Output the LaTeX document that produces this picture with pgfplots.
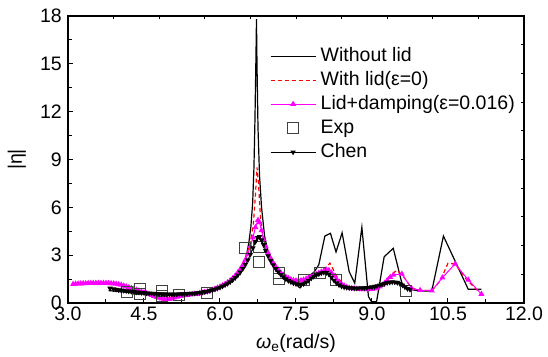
\documentclass[border=0pt]{standalone}
\usepackage{fontspec}
\setmainfont{Liberation Sans}
\usepackage{pgfplots}
\pgfplotsset{compat=1.18}
\definecolor{mag}{RGB}{255,0,255}
\newcommand{\fs}{\fontsize{19.5}{23}\selectfont}
\begin{document}
\begin{tikzpicture}
\useasboundingbox (-68pt,-53pt) rectangle (480pt,303pt);
\begin{axis}[
  scale only axis, width=456pt, height=287pt,
  xmin=3, xmax=12, ymin=0, ymax=18,
  xtick={3,4.5,...,12}, ytick={0,3,...,18},
  minor x tick num=1, minor y tick num=1,
  xtick pos=left, ytick pos=left,
  tick align=inside,
  major tick length=5pt, minor tick length=4pt,
  axis line style={line width=1.2pt},
  tick style={line width=1pt, black},
  /pgf/number format/assume math mode=true,
  xticklabel style={/pgf/number format/fixed, /pgf/number format/fixed zerofill, /pgf/number format/precision=1, inner sep=0pt, yshift=-4pt},
  yticklabel style={/pgf/number format/fixed, /pgf/number format/precision=0, inner sep=0pt, xshift=-6pt},
  ticklabel style={font=\fs},
  every axis x label/.style={at={(axis description cs:0.5,0)}, anchor=base, yshift=-45pt, font=\fs},
  every axis y label/.style={at={(axis description cs:0,0.5)}, xshift=-51pt, rotate=90, anchor=center, font=\fs},
  xlabel={\textit{ω}\textsubscript{e}(rad/s)},
  ylabel={|η|},
  legend style={draw=none, fill=none, at={(rel axis cs:0.443,0.895)}, anchor=north west,
    font=\fs, inner sep=0pt, outer sep=0pt, row sep=4pt, column sep=3.5pt,
    nodes={inner sep=1pt, text height=14pt, text depth=4pt}},
  legend cell align=left,
  legend image code/.code={\draw[mark repeat=2,mark phase=2,#1] plot coordinates {(0pt,0pt) (22.5pt,0pt) (45pt,0pt)};},
]
% Without lid
\addplot[black, line width=1.2pt, mark=none] coordinates {
(3.80,0.78)(4.00,0.72)(4.20,0.66)(4.40,0.60)(4.60,0.55)(4.80,0.52)(5.00,0.50)(5.20,0.52)(5.40,0.56)(5.60,0.63)(5.80,0.76)(5.95,0.92)(6.10,1.18)(6.20,1.38)(6.30,1.62)(6.38,1.95)(6.46,2.35)(6.52,2.95)(6.57,3.80)(6.61,4.80)(6.645,6.30)(6.67,8.50)(6.69,11.5)(6.71,15.5)(6.72,17.8)(6.73,15.0)(6.75,11.0)(6.78,8.0)(6.82,6.0)(6.88,4.2)(6.95,3.2)(7.02,2.55)(7.10,2.2)(7.18,1.86)(7.30,1.58)(7.45,1.30)(7.58,0.95)(7.66,1.35)(7.76,1.70)(7.86,1.95)(7.95,2.40)(8.07,4.20)(8.18,4.37)(8.29,3.20)(8.41,4.40)(8.55,1.96)(8.66,1.25)(8.80,4.75)(8.93,0.40)(8.99,0.08)(9.09,0.08)(9.24,2.90)(9.42,3.43)(9.59,1.24)(9.75,0.85)(9.95,0.75)(10.18,0.75)(10.41,4.20)(10.90,0.86)(11.16,0.86)};
\addlegendentry{Without lid}
% With lid
\addplot[red, line width=1.2pt, dash pattern=on 4pt off 3pt, mark=none] coordinates {
(3.10,1.15)(3.50,1.18)(4.00,1.15)(4.20,1.00)(4.50,0.75)(4.80,0.45)(5.00,0.35)(5.20,0.42)(5.50,0.55)(5.80,0.75)(6.00,0.98)(6.20,1.40)(6.35,1.90)(6.50,2.80)(6.60,3.80)(6.66,5.0)(6.70,6.8)(6.73,8.5)(6.76,7.5)(6.80,5.3)(6.86,4.0)(6.95,3.0)(7.10,2.2)(7.30,1.55)(7.50,1.25)(7.70,1.45)(7.90,1.85)(8.05,2.1)(8.17,2.5)(8.30,1.7)(8.45,1.1)(8.70,0.95)(9.00,0.90)(9.20,1.10)(9.35,1.70)(9.49,2.05)(9.60,1.75)(9.78,0.95)(9.95,0.80)(10.18,0.78)(10.35,1.40)(10.50,2.50)(10.64,2.45)(10.87,1.45)(11.16,0.55)};
\addlegendentry{With lid(ε=0)}
% Lid + damping
\addplot[mag, line width=1pt, mark=triangle*, mark size=2.5pt, mark options={solid, fill=mag, draw=mag}] coordinates {
(3.10,1.18)(3.15,1.20)(3.20,1.21)(3.25,1.22)(3.30,1.23)(3.35,1.23)(3.40,1.24)(3.45,1.24)(3.50,1.25)(3.55,1.25)(3.60,1.25)(3.65,1.25)(3.70,1.25)(3.75,1.25)(3.80,1.24)(3.85,1.23)(3.90,1.22)(3.95,1.20)(4.00,1.17)(4.05,1.13)(4.10,1.08)(4.15,1.03)(4.20,0.98)(4.25,0.93)(4.30,0.88)(4.35,0.82)(4.40,0.77)(4.45,0.72)(4.50,0.66)(4.55,0.60)(4.60,0.55)(4.65,0.49)(4.70,0.43)(4.75,0.37)(4.80,0.32)(4.85,0.27)(4.90,0.24)(4.95,0.22)(5.00,0.24)(5.05,0.28)(5.10,0.33)(5.15,0.38)(5.20,0.42)(5.25,0.45)(5.30,0.48)(5.35,0.50)(5.40,0.52)(5.45,0.54)(5.50,0.56)(5.55,0.58)(5.60,0.61)(5.65,0.64)(5.70,0.68)(5.75,0.72)(5.80,0.77)(5.85,0.82)(5.90,0.88)(5.95,0.95)(6.00,1.02)(6.05,1.10)(6.10,1.19)(6.15,1.29)(6.20,1.41)(6.25,1.55)(6.30,1.71)(6.35,1.90)(6.40,2.12)(6.45,2.38)(6.50,2.70)(6.55,3.08)(6.60,3.55)(6.65,4.10)(6.70,4.75)(6.75,5.20)(6.78,5.05)(6.82,4.55)(6.86,4.00)(6.90,3.55)(6.95,3.15)(7.00,2.80)(7.05,2.52)(7.10,2.28)(7.15,2.08)(7.20,1.90)(7.25,1.76)(7.30,1.64)(7.35,1.55)(7.40,1.48)(7.45,1.42)(7.50,1.40)(7.55,1.40)(7.60,1.42)(7.65,1.46)(7.70,1.52)(7.75,1.58)(7.80,1.65)(7.85,1.72)(7.90,1.80)(7.95,1.88)(8.00,1.95)(8.05,2.02)(8.10,2.08)(8.15,2.05)(8.20,1.90)(8.25,1.70)(8.30,1.50)(8.35,1.32)(8.40,1.18)(8.45,1.08)(8.50,1.00)(8.55,0.95)(8.60,0.92)(8.65,0.90)(8.70,0.88)(8.75,0.87)(8.80,0.86)(8.85,0.85)(8.90,0.85)(8.95,0.86)(9.00,0.87)(9.05,0.90)(9.10,0.95)(9.15,1.02)(9.20,1.12)(9.25,1.25)(9.30,1.42)(9.36,1.62)(9.42,1.76)(9.59,1.82)(9.78,0.92)(9.95,0.80)(10.18,0.77)(10.39,1.59)(10.64,2.45)(10.90,1.45)(11.16,0.56)};
\addlegendentry{Lid+damping(ε=0.016)}
% Exp
\addplot[only marks, mark=square, mark size=5.5pt, mark options={draw=black!75, line width=0.9pt}] coordinates {
(4.16,0.72)(4.42,0.90)(4.42,0.58)(4.85,0.75)(4.85,0.42)(5.18,0.52)(5.74,0.63)(6.49,3.47)(6.76,3.5)(6.77,2.6)(7.16,1.88)(7.16,1.5)(7.66,1.45)(7.97,1.88)(8.29,1.45)(9.67,0.75)};
\addlegendentry{Exp}
% Chen
\addplot[black, line width=1pt, mark=triangle*, mark size=2.2pt, mark options={rotate=180, fill=black}] coordinates {
(3.83,0.92)(3.90,0.88)(3.95,0.85)(4.00,0.82)(4.05,0.80)(4.10,0.78)(4.15,0.76)(4.20,0.74)(4.25,0.72)(4.30,0.70)(4.35,0.68)(4.40,0.67)(4.45,0.65)(4.50,0.64)(4.55,0.62)(4.60,0.61)(4.65,0.60)(4.70,0.59)(4.75,0.58)(4.80,0.57)(4.85,0.56)(4.90,0.56)(4.95,0.55)(5.00,0.55)(5.05,0.55)(5.10,0.55)(5.15,0.55)(5.20,0.56)(5.25,0.56)(5.30,0.57)(5.35,0.58)(5.40,0.59)(5.45,0.60)(5.50,0.61)(5.55,0.63)(5.60,0.65)(5.65,0.67)(5.70,0.70)(5.75,0.73)(5.80,0.77)(5.85,0.81)(5.90,0.86)(5.95,0.92)(6.00,0.98)(6.05,1.05)(6.10,1.13)(6.15,1.22)(6.20,1.32)(6.25,1.44)(6.30,1.58)(6.35,1.74)(6.40,1.93)(6.45,2.15)(6.50,2.40)(6.55,2.70)(6.60,3.05)(6.65,3.45)(6.70,3.85)(6.74,4.10)(6.78,4.15)(6.82,3.95)(6.86,3.65)(6.90,3.30)(6.95,2.95)(7.00,2.65)(7.05,2.38)(7.10,2.15)(7.15,1.95)(7.20,1.78)(7.25,1.63)(7.30,1.50)(7.35,1.40)(7.40,1.32)(7.45,1.25)(7.50,1.20)(7.55,1.17)(7.60,1.15)(7.65,1.20)(7.70,1.30)(7.75,1.42)(7.80,1.55)(7.85,1.66)(7.90,1.75)(7.95,1.82)(8.00,1.88)(8.05,1.92)(8.10,1.90)(8.15,1.80)(8.20,1.62)(8.25,1.42)(8.30,1.25)(8.35,1.13)(8.40,1.05)(8.45,1.00)(8.50,0.97)(8.55,0.95)(8.60,0.94)(8.65,0.93)(8.70,0.93)(8.75,0.93)(8.80,0.94)(8.85,0.95)(8.90,0.96)(8.95,0.98)(9.00,1.00)(9.05,1.03)(9.10,1.07)(9.15,1.12)(9.20,1.17)(9.25,1.22)(9.30,1.27)(9.35,1.30)(9.40,1.32)(9.45,1.31)(9.50,1.28)(9.55,1.22)(9.60,1.12)(9.65,1.00)(9.70,0.90)(9.75,0.85)};
\addlegendentry{Chen}
\end{axis}
\begin{axis}[
  scale only axis, width=456pt, height=287pt,
  xmin=0, xmax=10, ymin=0, ymax=10,
  xtick={1,...,9}, ytick={1,...,9},
  xticklabels={}, yticklabels={},
  xtick pos=right, ytick pos=right,
  tick align=inside, major tick length=3.5pt,
  axis line style={line width=1.2pt},
  tick style={line width=1pt, black},
]
\end{axis}
\end{tikzpicture}
\end{document}
